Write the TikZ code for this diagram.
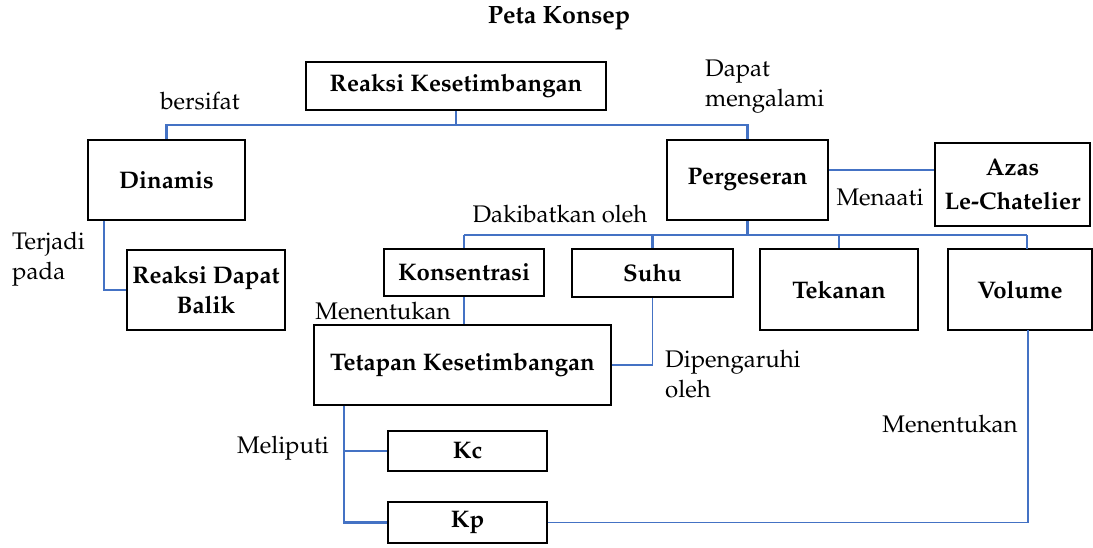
\documentclass[tikz,border=0pt]{standalone}
\usepackage[T1]{fontenc}
\usepackage{mathpazo}
\usetikzlibrary{calc}
\definecolor{linkblue}{HTML}{4472C4}
\begin{document}
\begin{tikzpicture}[x=1pt,y=-1pt,
  box/.style={draw=black,line width=1.8pt,inner sep=0pt,align=center,
    font=\fontsize{24}{34}\selectfont\bfseries},
  lbl/.style={inner sep=0pt,align=left,font=\fontsize{24}{30}\selectfont},
  link/.style={draw=linkblue,line width=2.6pt},
  thinlink/.style={draw=linkblue,line width=1.1pt}]
\useasboundingbox (0,0) rectangle (1093,547);

% title
\node[font=\fontsize{25}{30}\selectfont\bfseries] (title) at (559,18) {Peta Konsep};

% concept boxes
\node[box,minimum width=300pt,minimum height=48pt] (rk)   at (456,86)    {Reaksi Kesetimbangan};
\node[box,minimum width=157pt,minimum height=80pt] (din)  at (166.5,180) {Dinamis};
\node[box,minimum width=161pt,minimum height=80pt] (per)  at (747.5,180) {Pergeseran};
\node[box,minimum width=155pt,minimum height=83pt] (azas) at (1012.5,184.5) {Azas\\Le-Chatelier};
\node[box,minimum width=158pt,minimum height=80pt] (rdb)  at (206,290)   {Reaksi Dapat\\[-4pt]Balik};
\node[box,minimum width=160pt,minimum height=47pt] (kon)  at (464,272.5) {Konsentrasi};
\node[box,minimum width=161pt,minimum height=48pt] (suhu) at (652.5,273) {Suhu};
\node[box,minimum width=158pt,minimum height=81pt] (tek)  at (839,289.5) {Tekanan};
\node[box,minimum width=144pt,minimum height=81pt] (vol)  at (1020,289.5) {Volume};
\node[box,minimum width=297pt,minimum height=80pt] (tet)  at (462.5,365) {Tetapan Kesetimbangan};
\node[box,minimum width=159pt,minimum height=40pt] (kc)   at (467.5,451) {Kc};
\node[box,minimum width=159pt,minimum height=41pt] (kp)   at (467.5,522.5) {Kp};

% junction points of the tree connectors
\coordinate (j1) at (456,125);
\coordinate (j2) at (747.5,235);
\coordinate (volin) at (1027,249);
\coordinate (volout) at (1028,330);

% thick connectors
\draw[link] (rk.south) -- (j1);
\draw[link] (din.north) |- (j1) -| (per.north);
\draw[link] (per.south) -- (j2);
\draw[link] (kon.north |- j2) -- (volin |- j2);
\draw[link] (kon.north |- j2) -- (kon.north);
\draw[link] (suhu.north |- j2) -- (suhu.north);
\draw[link] (tek.north |- j2) -- (tek.north);
\draw[link] (volin |- j2) -- (volin);
\draw[link] ([xshift=17pt]din.south west) |- (rdb.west);
\draw[link] (kon.south) -- (kon.south |- tet.north);
\draw[link] ([xshift=31pt]tet.south west) |- (kc.west);
\draw[link] ([xshift=31pt]tet.south west) |- (kp.west);

% thin connectors
\draw[thinlink] ([yshift=10pt]per.east) -- ([yshift=10pt]per.east -| azas.west);
\draw[thinlink] (suhu.south) |- (tet.east);
\draw[thinlink] (kp.east) -| (volout);

% connector labels
\node[lbl] (l1) at (200,101) {bersifat};
\node[lbl,anchor=west] (l2) at (705,86.5) {Dapat\\mengalami};
\node[lbl] (l3) at (880,197) {Menaati};
\node[lbl] (l4) at (560,214) {Dakibatkan oleh};
\node[lbl,anchor=west] (l5) at (12,259) {Terjadi\\pada};
\node[lbl] (l6) at (383,311) {Menentukan};
\node[lbl,anchor=west] (l7) at (665,374) {Dipengaruhi\\oleh};
\node[lbl] (l8) at (283,448) {Meliputi};
\node[lbl] (l9) at (950,424) {Menentukan};
\end{tikzpicture}
\end{document}
